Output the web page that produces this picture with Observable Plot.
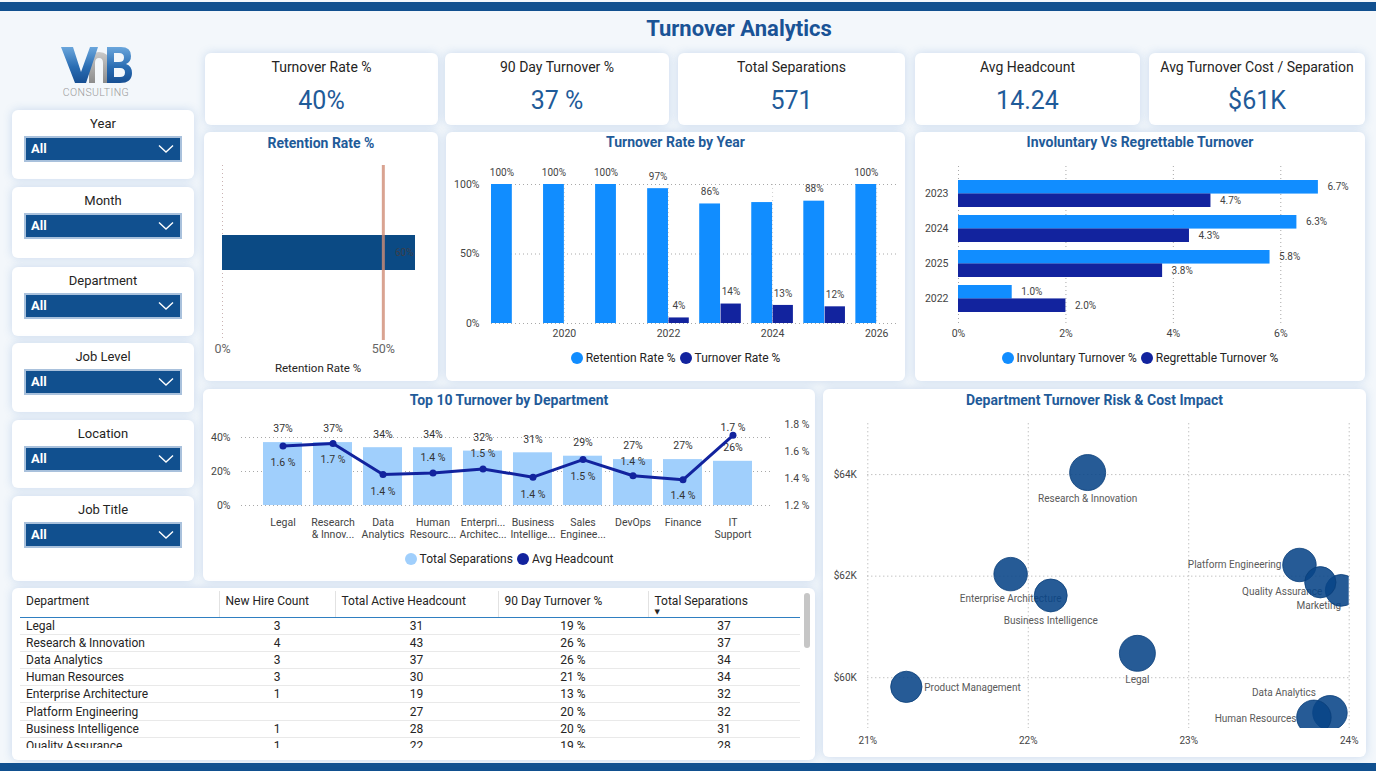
<!DOCTYPE html>
<html>
<head>
<meta charset="utf-8">
<title>Turnover Analytics</title>
<script src="https://cdn.jsdelivr.net/npm/d3@7"></script>
<script src="https://cdn.jsdelivr.net/npm/@observablehq/plot@0.6"></script>
<style>
  html, body { margin: 0; padding: 0; background: #f3f7fb; }
  #page { position: relative; width: 1376px; height: 771px; overflow: hidden; background: #f3f7fb;
          font-family: Roboto, "DejaVu Sans", sans-serif; color: #252423; }
  .band { position: absolute; left: 0; width: 1376px; background: #11508f; }
  .card { position: absolute; background: #fff; border-radius: 6px; box-shadow: 0 0 10px rgba(60, 120, 190, 0.22); }
  .ctitle { position: absolute; text-align: center; font-weight: 700; color: #1f5b99; font-size: 14px; line-height: 16px; white-space: nowrap; }
  .legend { position: absolute; display: flex; justify-content: center; align-items: center; font-size: 12px; line-height: 14px; color: #252423; white-space: nowrap; }
  .legend .item { display: flex; align-items: center; margin: 0 2px; }
  .legend .sw { width: 12px; height: 12px; border-radius: 50%; margin-right: 3px; }
  .kpi-label { position: absolute; left: 0; right: 0; top: 6px; text-align: center; font-size: 14px; line-height: 16px; }
  .kpi-value { position: absolute; left: 0; right: 0; top: 33px; text-align: center; font-size: 25px; line-height: 30px; color: #1f5b99; }
  .slicer-label { position: absolute; left: 0; right: 0; top: 6px; text-align: center; font-size: 13px; line-height: 16px; }
  .dropdown { position: absolute; left: 12px; width: 154px; height: 22px; background: #11508f; border: 2px solid #a9c1dc; }
  .dropdown span { position: absolute; left: 5px; top: 3px; color: #fff; font-weight: 700; font-size: 13px; line-height: 16px; }
  .dropdown svg { position: absolute; right: 6px; top: 6px; }
  table.grid { border-collapse: collapse; table-layout: fixed; width: 780px; font-size: 12px; }
  table.grid th { font-weight: 400; text-align: left; vertical-align: top; height: 26px; padding: 3px 6px 0 6px; box-sizing: border-box;
                  border-bottom: 1.5px solid #2f7fc1; white-space: nowrap; position: relative; }
  table.grid th + th { border-left: 1px solid #e2e2e2; }
  table.grid td { height: 17.2px; padding: 0 6px; box-sizing: border-box; border-bottom: 1px solid #e9e9e9; white-space: nowrap; line-height: 16px; }
  table.grid td.num { text-align: center; }
</style>
</head>
<body>
<div id="page"></div>
<script>
// ---------- data ----------
const kpiLabels = ["Turnover Rate %", "90 Day Turnover %", "Total Separations", "Avg Headcount", "Avg Turnover Cost / Separation"];
const kpiValues = ["40%", "37 %", "571", "14.24", "$61K"];

const slicerFields = ["Year", "Month", "Department", "Job Level", "Location", "Job Title"];
const slicerSelection = "All";

const retentionRate = 0.60;
const retentionTarget = 0.50;

const years = [2019, 2020, 2021, 2022, 2023, 2024, 2025, 2026];
const retentionByYear = [1.00, 1.00, 1.00, 0.97, 0.86, 0.87, 0.88, 1.00];
const turnoverByYear = [null, null, null, 0.04, 0.14, 0.13, 0.12, null];
const retentionLabelShown = [true, true, true, true, true, false, true, true];

const typeYears = ["2023", "2024", "2025", "2022"];
const involuntaryPct = [0.067, 0.063, 0.058, 0.010];
const regrettablePct = [0.047, 0.043, 0.038, 0.020];

const topDepartments = ["Legal", "Research & Innovation", "Data Analytics", "Human Resources", "Enterprise Architecture",
  "Business Intelligence", "Sales Engineering", "DevOps", "Finance", "IT Support"];
const topTickLabels = ["Legal", "Research\n& Innov...", "Data\nAnalytics", "Human\nResourc...", "Enterpri...\nArchitec...",
  "Business\nIntellige...", "Sales\nEnginee...", "DevOps", "Finance", "IT\nSupport"];
const topSeparationPct = [0.37, 0.37, 0.34, 0.34, 0.32, 0.31, 0.29, 0.27, 0.27, 0.26];
const topHeadcountPct = [1.64, 1.66, 1.43, 1.44, 1.47, 1.41, 1.54, 1.42, 1.39, 1.72];

const riskDepartments = ["Research & Innovation", "Enterprise Architecture", "Business Intelligence", "Legal", "Product Management",
  "Platform Engineering", "Quality Assurance", "Marketing", "Data Analytics", "Human Resources"];
const riskTurnoverPct = [22.37, 21.89, 22.14, 22.68, 21.24, 23.69, 23.82, 23.95, 23.88, 23.78];
const riskCostK = [64.04, 62.04, 61.62, 60.48, 59.82, 62.22, 61.88, 61.72, 59.31, 59.22];
const riskSeparations = [37, 32, 31, 37, 28, 32, 28, 29, 34, 34];

const tableColumns = ["Department", "New Hire Count", "Total Active Headcount", "90 Day Turnover %", "Total Separations"];
const tableDepartments = ["Legal", "Research & Innovation", "Data Analytics", "Human Resources", "Enterprise Architecture",
  "Platform Engineering", "Business Intelligence", "Quality Assurance"];
const tableNewHires = [3, 4, 3, 3, 1, null, 1, 1];
const tableActiveHeadcount = [31, 43, 37, 30, 19, 27, 28, 22];
const table90DayTurnover = [0.19, 0.26, 0.26, 0.21, 0.13, 0.20, 0.20, 0.19];
const tableSeparations = [37, 37, 34, 34, 32, 32, 31, 28];

// ---------- shared styling ----------
const FONT = 'Roboto, "DejaVu Sans", sans-serif';
const BRIGHT = "#118dff";
const NAVY = "#12239e";
const LIGHT = "#a0cffc";
const GRID = {stroke: "#a8a8a8", strokeDasharray: "1,3", strokeWidth: 1};
const pct0 = d => `${Math.round(d * 100)}%`;

const page = d3.select("#page");

function block(cls, x, y, w, h) {
  return page.append("div").attr("class", cls)
    .style("left", x + "px").style("top", y + "px")
    .style("width", w + "px").style("height", h + "px");
}
function cardTitle(text, x, w, cy) {
  page.append("div").attr("class", "ctitle")
    .style("left", x + "px").style("width", w + "px").style("top", (cy - 8) + "px").text(text);
}
function legend(items, x, w, cy) {
  const lg = page.append("div").attr("class", "legend")
    .style("left", x + "px").style("width", w + "px").style("top", (cy - 7) + "px");
  const it = lg.selectAll("div.item").data(items).join("div").attr("class", "item");
  it.append("div").attr("class", "sw").style("background", d => d.color);
  it.append("span").text(d => d.label);
}
function plotStyle(x, y) {
  return {position: "absolute", left: x + "px", top: y + "px", background: "transparent",
          overflow: "visible", fontFamily: FONT, fontSize: "10.5px", color: "#444"};
}
function mount(svg) { page.node().appendChild(svg); }

// ---------- frame: bands, title, logo ----------
block("band", 0, 2, 1376, 9);
block("band", 0, 763, 1376, 8);
page.append("div")
  .style("position", "absolute").style("left", "539px").style("width", "400px").style("top", "16px")
  .style("text-align", "center").style("font-size", "22px").style("line-height", "26px")
  .style("font-weight", "700").style("color", "#1a5396").text("Turnover Analytics");

page.append("div").style("position", "absolute").style("left", "55px").style("top", "40px").html(`
<svg width="90" height="62" viewBox="55 40 90 62">
  <defs>
    <linearGradient id="lgBlue" x1="0" y1="0" x2="0" y2="1">
      <stop offset="0" stop-color="#6aa6dc"/><stop offset="0.55" stop-color="#2a6db3"/><stop offset="1" stop-color="#174f93"/>
    </linearGradient>
    <linearGradient id="lgGrey" x1="0" y1="0" x2="0" y2="1">
      <stop offset="0" stop-color="#c9c9c9"/><stop offset="1" stop-color="#8c8c8c"/>
    </linearGradient>
  </defs>
  <path d="M89 83 L89 62 Q89 52 99 52 Q109 52 109 62 L109 83 L103 83 L103 63 Q103 58 99 58 Q95 58 95 63 L95 83 Z" fill="url(#lgGrey)"/>
  <polygon points="61,47 73,47 81,72 90,47 98,47 86,83 75,83" fill="url(#lgBlue)"/>
  <path d="M107 47 L121 47 Q131 47 131 56 Q131 62 126 64 Q132 66 132 73 Q132 83 120 83 L107 83 Z
           M114 53 L114 62 L119 62 Q124 62 124 57.5 Q124 53 119 53 Z M114 68 L114 77 L120 77 Q125 77 125 72.5 Q125 68 120 68 Z"
        fill="url(#lgBlue)" fill-rule="evenodd"/>
  <text x="96" y="96" text-anchor="middle" font-family="${FONT}" font-size="10.5" font-weight="300" fill="#9a9a9a" letter-spacing="0.4">CONSULTING</text>
</svg>`);

// ---------- slicers ----------
const slicerBoxes = [[110, 179], [187, 258], [267, 336], [343, 412], [420, 488], [496, 581]];
slicerFields.forEach((field, i) => {
  const [y0, y1] = slicerBoxes[i];
  const c = block("card", 12, y0, 182, y1 - y0);
  c.append("div").attr("class", "slicer-label").text(field);
  const dd = c.append("div").attr("class", "dropdown").style("top", "26px");
  dd.append("span").text(slicerSelection);
  dd.append("svg").attr("width", 16).attr("height", 10)
    .append("polyline").attr("points", "1,1.5 8,8 15,1.5")
    .attr("fill", "none").attr("stroke", "#fff").attr("stroke-width", 1.4);
});

// ---------- KPI cards ----------
const kpiBoxes = [[205, 438], [445, 669], [678, 905], [915, 1140], [1149, 1365]];
kpiLabels.forEach((label, i) => {
  const [x0, x1] = kpiBoxes[i];
  const c = block("card", x0, 53, x1 - x0, 72);
  c.append("div").attr("class", "kpi-label").text(label);
  c.append("div").attr("class", "kpi-value").text(kpiValues[i]);
});

// ---------- Retention Rate % ----------
block("card", 204, 132, 234, 249);
cardTitle("Retention Rate %", 204, 234, 143);
mount(Plot.plot({
  width: 234, height: 220,
  marginLeft: 18, marginRight: 23, marginTop: 10, marginBottom: 35,
  style: plotStyle(204, 155),
  x: {domain: [0, 0.6]},
  y: {domain: ["Retention Rate %"], padding: 0.667, axis: null},
  marks: [
    Plot.ruleX([0], {stroke: "#c9b2b2", strokeDasharray: "1,3"}),
    Plot.barX([retentionRate], {x: d => d, y: () => "Retention Rate %", fill: "#0b4a84"}),
    Plot.ruleX([retentionTarget], {stroke: "#d08c76", strokeWidth: 3, strokeOpacity: 0.8}),
    Plot.text([retentionRate], {x: d => d, y: () => "Retention Rate %", text: d => pct0(d),
      textAnchor: "end", dx: -2, fill: "#3a3f4a", fontSize: 10}),
    Plot.axisX({ticks: [0, 0.5], tickFormat: pct0, tickSize: 0, tickPadding: 4, fontSize: 12.5, fill: "#666", label: null})
  ]
}));
page.append("div").style("position", "absolute").style("left", "218px").style("width", "200px")
  .style("top", "361px").style("text-align", "center").style("font-size", "11.5px").style("line-height", "14px")
  .text("Retention Rate %");

// ---------- Turnover Rate by Year ----------
block("card", 446, 132, 459, 249);
cardTitle("Turnover Rate by Year", 446, 459, 142);
const retentionRows = years.map((year, i) => ({year, value: retentionByYear[i], show: retentionLabelShown[i]}));
const turnoverRows = years.map((year, i) => ({year, value: turnoverByYear[i]})).filter(d => d.value != null);
mount(Plot.plot({
  width: 460, height: 190,
  marginLeft: 45, marginRight: 9, marginTop: 29, marginBottom: 22,
  style: plotStyle(446, 155),
  x: {domain: [2018.6, 2026.4]},
  y: {domain: [0, 1]},
  marks: [
    Plot.ruleY([0, 0.5, 1], GRID),
    Plot.ruleX([2020, 2022, 2024, 2026], {...GRID, stroke: "#d0d0d0"}),
    Plot.rectY(retentionRows, {x1: d => d.year - 0.4, x2: d => d.year, y: "value", fill: BRIGHT}),
    Plot.rectY(turnoverRows, {x1: d => d.year, x2: d => d.year + 0.4, y: "value", fill: NAVY, insetLeft: 0.5}),
    Plot.text(retentionRows.filter(d => d.show), {x: d => d.year - 0.2, y: "value", text: d => pct0(d.value), dy: -12, fontSize: 10, fill: "#444"}),
    Plot.text(turnoverRows, {x: d => d.year + 0.2, y: "value", text: d => pct0(d.value), dy: -12, fontSize: 10, fill: "#444"}),
    Plot.axisX({ticks: [2020, 2022, 2024, 2026], tickFormat: d => String(d), tickSize: 0, tickPadding: 6, label: null}),
    Plot.axisY({ticks: [0, 0.5, 1], tickFormat: pct0, tickSize: 0, tickPadding: 12, label: null})
  ]
}));
legend([{label: "Retention Rate %", color: BRIGHT}, {label: "Turnover Rate %", color: NAVY}], 446, 459, 358);

// ---------- Involuntary Vs Regrettable Turnover ----------
block("card", 915, 132, 450, 249);
cardTitle("Involuntary Vs Regrettable Turnover", 915, 450, 142);
const typeRows = typeYears.map((year, i) => ({year, involuntary: involuntaryPct[i], regrettable: regrettablePct[i]}));
// two bars share each year band: upper half involuntary, lower half regrettable
const cTop = 11, cBottom = 20, cHeight = 190, padIn = 0.236, padOut = 0.38;
const cStep = (cHeight - cTop - cBottom) / (typeYears.length - padIn + 2 * padOut);
const halfBand = cStep * (1 - padIn) / 2;
const pctLabel = d => `${(d * 100).toFixed(1)}%`;
mount(Plot.plot({
  width: 451, height: cHeight,
  marginLeft: 43, marginRight: 32, marginTop: cTop, marginBottom: cBottom,
  style: plotStyle(915, 155),
  x: {domain: [0, 0.07]},
  y: {domain: typeYears, paddingInner: padIn, paddingOuter: padOut},
  marks: [
    Plot.ruleX([0, 0.02, 0.04, 0.06], GRID),
    Plot.barX(typeRows, {x: "involuntary", y: "year", fill: BRIGHT, insetBottom: halfBand}),
    Plot.barX(typeRows, {x: "regrettable", y: "year", fill: NAVY, insetTop: halfBand}),
    Plot.text(typeRows, {x: "involuntary", y: "year", text: d => pctLabel(d.involuntary), dy: -halfBand / 2, dx: 9, textAnchor: "start", fontSize: 10, fill: "#444"}),
    Plot.text(typeRows, {x: "regrettable", y: "year", text: d => pctLabel(d.regrettable), dy: halfBand / 2, dx: 9, textAnchor: "start", fontSize: 10, fill: "#444"}),
    Plot.axisX({ticks: [0, 0.02, 0.04, 0.06], tickFormat: pct0, tickSize: 0, tickPadding: 4, label: null}),
    Plot.axisY({tickSize: 0, tickPadding: 10, label: null})
  ]
}));
legend([{label: "Involuntary Turnover %", color: BRIGHT}, {label: "Regrettable Turnover %", color: NAVY}], 915, 450, 358);

// ---------- Top 10 Turnover by Department ----------
block("card", 203, 389, 612, 192);
cardTitle("Top 10 Turnover by Department", 203, 612, 400);
const topRows = topDepartments.map((dept, i) => ({dept, separations: topSeparationPct[i], headcount: topHeadcountPct[i]}));
const tickLabelOf = new Map(topDepartments.map((d, i) => [d, topTickLabels[i]]));
const topX = {type: "band", domain: topDepartments, paddingInner: 0.22, paddingOuter: 0.43};
const topFrame = {width: 612, height: 135, marginLeft: 38, marginRight: 42, marginBottom: 40};
mount(Plot.plot({
  ...topFrame, marginTop: 18.5,
  style: plotStyle(203, 410),
  x: topX,
  y: {domain: [0, 0.45]},
  marks: [
    Plot.ruleY([0, 0.2, 0.4], GRID),
    Plot.barY(topRows, {x: "dept", y: "separations", fill: LIGHT}),
    Plot.text(topRows, {x: "dept", y: "separations", text: d => pct0(d.separations), dy: -13.5, fontSize: 10.5, fill: "#333"}),
    Plot.axisX({tickFormat: d => tickLabelOf.get(d), tickSize: 0, tickPadding: 12, lineHeight: 1.15, fontSize: 10.5, label: null}),
    Plot.axisY({ticks: [0, 0.2, 0.4], tickFormat: pct0, tickSize: 0, tickPadding: 11, label: null})
  ]
}));
// second value axis on the right: average headcount line
const headcountLabelDy = {"Legal": 17, "Research & Innovation": 16, "Data Analytics": 17, "Human Resources": -15,
  "Enterprise Architecture": -15, "Business Intelligence": 17, "Sales Engineering": 17, "DevOps": -14, "Finance": 16, "IT Support": -8};
mount(Plot.plot({
  ...topFrame, marginTop: 14,
  style: plotStyle(203, 410),
  x: {...topX, axis: null},
  y: {domain: [1.2, 1.8]},
  marks: [
    Plot.line(topRows, {x: "dept", y: "headcount", stroke: NAVY, strokeWidth: 3}),
    Plot.dot(topRows, {x: "dept", y: "headcount", r: 3.5, fill: NAVY}),
    ...topRows.map(d => Plot.text([d], {x: "dept", y: "headcount", text: r => `${r.headcount.toFixed(1)} %`,
      dy: headcountLabelDy[d.dept], fontSize: 10.5, fill: "#333"})),
    Plot.axisY({anchor: "right", ticks: [1.2, 1.4, 1.6, 1.8], tickFormat: d => `${d.toFixed(1)} %`, tickSize: 0, tickPadding: 11, label: null})
  ]
}));
legend([{label: "Total Separations", color: LIGHT}, {label: "Avg Headcount", color: NAVY}], 203, 612, 559);

// ---------- Department Turnover Risk & Cost Impact ----------
block("card", 823, 389, 543, 368);
cardTitle("Department Turnover Risk & Cost Impact", 823, 543, 400);
const riskRows = riskDepartments.map((dept, i) => ({dept, turnover: riskTurnoverPct[i], cost: riskCostK[i], separations: riskSeparations[i]}));
const riskLabelPlacement = {
  "Research & Innovation": {dy: 26},
  "Enterprise Architecture": {dy: 25},
  "Business Intelligence": {dy: 25},
  "Legal": {dy: 26},
  "Product Management": {dx: 18, dy: 1, textAnchor: "start"},
  "Platform Engineering": {dx: -18, textAnchor: "end"},
  "Quality Assurance": {dx: 2, dy: 9.5, textAnchor: "end"},
  "Marketing": {dx: 0, dy: 15, textAnchor: "end"},
  "Data Analytics": {dx: -14, dy: -19.5, textAnchor: "end"},
  "Human Resources": {dx: -17.5, dy: 1, textAnchor: "end"}
};
mount(Plot.plot({
  width: 543, height: 345,
  marginLeft: 44.3, marginRight: 17.3, marginTop: 13.3, marginBottom: 27,
  style: plotStyle(823, 410),
  x: {domain: [21, 24]},
  y: {domain: [59, 65]},
  r: {type: "sqrt", domain: [0, 37], range: [0, 18]},
  marks: [
    Plot.ruleX([21, 22, 23, 24], GRID),
    Plot.ruleY([60, 62, 64], GRID),
    ...riskRows.map(d => Plot.text([d], {x: "turnover", y: "cost", text: "dept", fontSize: 10, fill: "#5a5a5a",
      ...riskLabelPlacement[d.dept]})),
    Plot.dot(riskRows, {x: "turnover", y: "cost", r: "separations", fill: "#084488", fillOpacity: 0.88,
      stroke: "#0a3f7a", strokeWidth: 0.8, clip: true}),
    Plot.axisX({ticks: [21, 22, 23, 24], tickFormat: d => `${d}%`, tickSize: 0, tickPadding: 8, fontSize: 10, label: null}),
    Plot.axisY({ticks: [60, 62, 64], tickFormat: d => `$${d}K`, tickSize: 0, tickPadding: 11, fontSize: 10, label: null})
  ]
}));

// ---------- department table ----------
block("card", 12, 588, 803, 172);
const wrap = page.append("div").style("position", "absolute").style("left", "20px").style("top", "591px")
  .style("width", "780px").style("height", "157px").style("overflow", "hidden");
const table = wrap.append("table").attr("class", "grid");
const colWidths = [199, 116, 163, 150, 152];
table.append("colgroup").selectAll("col").data(colWidths).join("col").style("width", d => d + "px");
const head = table.append("thead").append("tr").selectAll("th").data(tableColumns).join("th").text(d => d);
head.filter((d, i) => i === tableColumns.length - 1).append("div")
  .style("position", "absolute").style("left", "6px").style("top", "18px")
  .style("font-size", "7px").style("line-height", "7px").text("▼");
const tableRows = tableDepartments.map((dept, i) => [
  dept,
  tableNewHires[i] == null ? "" : String(tableNewHires[i]),
  String(tableActiveHeadcount[i]),
  `${Math.round(table90DayTurnover[i] * 100)} %`,
  String(tableSeparations[i])
]);
table.append("tbody").selectAll("tr").data(tableRows).join("tr")
  .selectAll("td").data(d => d).join("td")
  .attr("class", (d, i) => i === 0 ? null : "num").text(d => d);
page.append("div").style("position", "absolute").style("left", "804px").style("top", "593px")
  .style("width", "6px").style("height", "55px").style("background", "#c6c6c6").style("border-radius", "3px");
</script>
</body>
</html>
